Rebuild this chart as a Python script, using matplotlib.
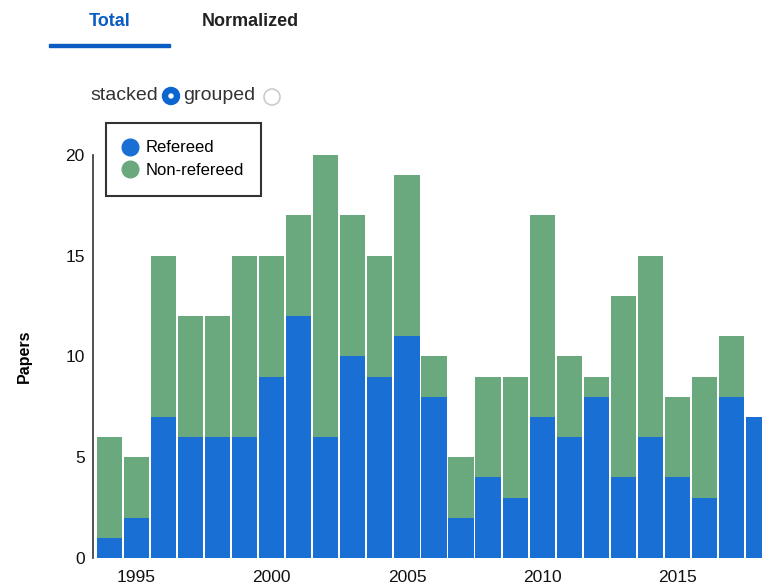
import matplotlib
matplotlib.use("Agg")
import matplotlib.pyplot as plt
from matplotlib.lines import Line2D
from matplotlib.patches import Circle, Rectangle

plt.rcParams['font.family'] = ['Liberation Sans', 'DejaVu Sans']

years = list(range(1994, 2019))
refereed = [1, 2, 7, 6, 6, 6, 9, 12, 6, 10, 9, 11, 8, 2, 4, 3, 7, 6, 8, 4, 6, 4, 3, 8, 7]
non_refereed = [5, 3, 8, 6, 6, 9, 6, 5, 14, 7, 6, 8, 2, 3, 5, 6, 10, 4, 1, 9, 9, 4, 6, 3, 0]
xticks = [1995, 2000, 2005, 2010, 2015]
yticks = [0, 5, 10, 15, 20]

blue = '#1a6fd4'
green = '#6aa97e'
W, H = 762, 585

fig = plt.figure(figsize=(W / 100, H / 100), dpi=100)
fig.patch.set_facecolor('white')

ax = fig.add_axes([93 / W, 27 / H, 1 - 93 / W, 403 / H])
ax.bar(years, refereed, width=0.93, color=blue, zorder=2)
ax.bar(years, non_refereed, width=0.93, bottom=refereed, color=green, zorder=2)
ax.set_xlim(1993.39, 2018.13)
ax.set_ylim(0, 20)
ax.set_xticks(xticks)
ax.set_yticks(yticks)
ax.tick_params(axis='both', length=0, labelsize=12.5, colors='#111111')
ax.tick_params(axis='x', pad=9)
ax.tick_params(axis='y', pad=6)
for s in ['top', 'right', 'bottom']:
    ax.spines[s].set_visible(False)
ax.spines['left'].set_color('#333333')
ax.spines['left'].set_linewidth(1.2)
ax.set_ylabel('Papers', fontsize=11.5, fontweight='bold', labelpad=24)

handles = [Line2D([], [], marker='o', linestyle='none', markersize=12, color=blue),
           Line2D([], [], marker='o', linestyle='none', markersize=12, color=green)]
leg = ax.legend(handles, ['Refereed', 'Non-refereed'], loc='upper left',
                bbox_to_anchor=(106 / W, 1 - 123 / H), bbox_transform=fig.transFigure,
                borderaxespad=0, fontsize=12, fancybox=False, framealpha=1,
                handletextpad=0.5, labelspacing=0.45, borderpad=1.05, handlelength=0.8)
leg.get_frame().set_edgecolor('#333333')
leg.get_frame().set_linewidth(1.5)

# tabs and the stacked/grouped switch on top
top = fig.add_axes([0, 0, 1, 1], facecolor='none')
top.set_xlim(0, W)
top.set_ylim(H, 0)
top.axis('off')
top.text(110, 22, 'Total', fontsize=13, fontweight='bold', color='#0a5cc2',
         ha='center', va='center')
top.text(250, 22, 'Normalized', fontsize=13, fontweight='bold', color='#222222',
         ha='center', va='center')
top.add_patch(Rectangle((49, 44), 121, 3, color='#0a5cc2'))
top.text(158, 96, 'stacked', fontsize=14, color='#333333', ha='right', va='center')
top.add_patch(Circle((171, 96), 8.5, color='#0b66d0'))
top.add_patch(Circle((171, 96), 2, color='white'))
top.text(183, 96, 'grouped', fontsize=14, color='#333333', ha='left', va='center')
top.add_patch(Circle((272, 97), 8, facecolor='white', edgecolor='#cccccc', linewidth=1.2))

fig.savefig('out.png', dpi=100)
